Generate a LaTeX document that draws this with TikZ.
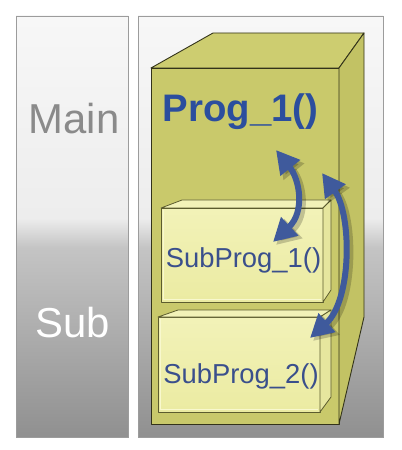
\documentclass[tikz,border=0pt]{standalone}
\usepackage{fontspec}
\setmainfont{Liberation Sans}
\usetikzlibrary{arrows.meta}
\definecolor{ptop}{HTML}{F7F7F7}
\definecolor{plight}{HTML}{EDEDED}
\definecolor{pmid}{HTML}{C4C4C4}
\definecolor{pbot}{HTML}{909090}
\definecolor{frameg}{HTML}{9C9C9C}
\definecolor{olive}{HTML}{C9C96B}
\definecolor{olivetop}{HTML}{CDCD70}
\definecolor{oliveside}{HTML}{C2C264}
\definecolor{olivedark}{HTML}{33331A}
\definecolor{lightfront}{HTML}{EBEBA2}
\definecolor{lighttop}{HTML}{F2F2B8}
\definecolor{lightside}{HTML}{E6E69E}
\definecolor{lightline}{HTML}{5C5C2E}
\definecolor{bevel}{HTML}{F8F8CE}
\definecolor{arrowblue}{HTML}{3F5A9C}
\definecolor{progblue}{HTML}{2B4E9E}
\definecolor{subblue}{HTML}{3A4F8C}
\definecolor{maingray}{HTML}{8A8A8A}
\pgfdeclareverticalshading{panelshade}{100bp}{color(0bp)=(pbot); color(25bp)=(pbot); color(47.5bp)=(pmid); color(51bp)=(plight); color(75bp)=(ptop); color(100bp)=(ptop)}
\pgfdeclareverticalshading{subshade}{100bp}{color(0bp)=(lightfront); color(25bp)=(lightfront); color(75bp)=(lighttop); color(100bp)=(lighttop)}
\tikzset{
  panel/.style={draw=frameg, line width=0.8bp, shading=panelshade},
  bigface/.style={draw=olivedark, line width=0.9bp, line join=round},
  smallface/.style={draw=lightline, line width=0.8bp, line join=round},
  bevelline/.style={draw=bevel, line width=1.2bp},
  bluearrow/.style={draw=arrowblue, line width=6bp,
    {Triangle[length=23bp,width=24bp]}-{Triangle[length=23bp,width=24bp]}},
  arrowshadow/.style={draw=black, opacity=0.2, line width=7bp,
    {Triangle[length=24bp,width=25bp]}-{Triangle[length=24bp,width=25bp]}},
  progtext/.style={font=\fontsize{38.5}{42}\selectfont\bfseries, text=progblue, inner sep=0pt, anchor=base},
  subprogtext/.style={font=\fontsize{27.5}{30}\selectfont, text=subblue, inner sep=0pt, anchor=base},
  sidetext/.style={font=\fontsize{42}{46}\selectfont, inner sep=0pt, anchor=base}
}
\begin{document}
\begin{tikzpicture}[x=1bp,y=-1bp]
\useasboundingbox (0,0) rectangle (401,450);
\fill[white] (0,0) rectangle (401,450);
% panels
\path[panel] (16,16) rectangle (128,437);
\path[panel] (138,16) rectangle (383,437);
% big box
\filldraw[bigface, fill=olive] (151,68) rectangle (339,424);
\filldraw[bigface, fill=olivetop] (151,68) -- (213,33) -- (364,33) -- (339,68) -- cycle;
\filldraw[bigface, fill=oliveside] (339,68) -- (364,33) -- (364,317) -- (339,424) -- cycle;
% inner box 1
\shade[shading=subshade] (161,208) rectangle (323,302);
\draw[bevelline] (163.5,210) -- (163.5,299.5) -- (321,299.5);
\draw[smallface] (161,208) rectangle (323,302);
\filldraw[smallface, fill=lighttop] (161,208) -- (182,200) -- (331,200) -- (323,208) -- cycle;
\filldraw[smallface, fill=lightside] (323,208) -- (331,200) -- (331,290) -- (323,302) -- cycle;
% inner box 2
\shade[shading=subshade] (158,317) rectangle (320,412);
\draw[bevelline] (160.5,319) -- (160.5,409.5) -- (318,409.5);
\draw[smallface] (158,317) rectangle (320,412);
\filldraw[smallface, fill=lighttop] (158,317) -- (178,310) -- (331,310) -- (320,317) -- cycle;
\filldraw[smallface, fill=lightside] (320,317) -- (331,310) -- (331,397) -- (320,412) -- cycle;
% texts
\node[sidetext, text=maingray] (main) at (74,134) {Main};
\node[sidetext, text=white] (sub) at (73,337) {Sub};
\node[progtext] (prog) at (240.5,122) {Prog\_1()};
\node[subprogtext] (sp1) at (243.5,267) {SubProg\_1()};
\node[subprogtext] (sp2) at (241,383) {SubProg\_2()};
% arrows
\coordinate (a1s) at (276,150);
\coordinate (a1e) at (273,242);
\coordinate (a2s) at (322,173);
\coordinate (a2e) at (310,338);
\draw[arrowshadow] ([shift={(3,3)}]a1s) .. controls (303,183) and (308,215) .. ([shift={(3,3)}]a1e);
\draw[arrowshadow] ([shift={(3,3)}]a2s) .. controls (355,218) and (355,303) .. ([shift={(3,3)}]a2e);
\draw[bluearrow] (a1s) .. controls (300,180) and (305,212) .. (a1e);
\draw[bluearrow] (a2s) .. controls (352,215) and (352,300) .. (a2e);
\end{tikzpicture}
\end{document}
